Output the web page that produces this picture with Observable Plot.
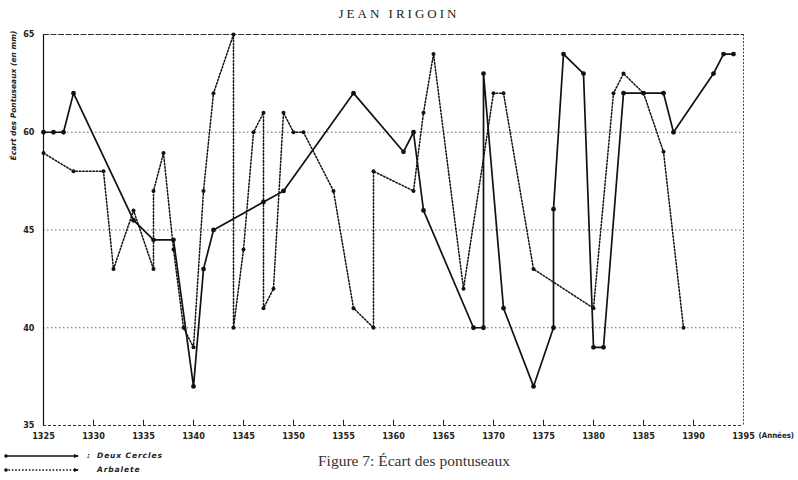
<!DOCTYPE html>
<html>
<head>
<meta charset="utf-8">
<script src="https://cdn.jsdelivr.net/npm/d3@7"></script>
<script src="https://cdn.jsdelivr.net/npm/@observablehq/plot@0.6"></script>
<style>
  html, body { margin: 0; padding: 0; background: #fff; }
  #wrap { position: relative; width: 798px; height: 480px; overflow: hidden; }
  #title { position: absolute; left: 0; top: 0; width: 798px; height: 26px; text-align: center;
           font-family: "Liberation Serif", "DejaVu Serif", serif; font-size: 13px; letter-spacing: 3px;
           line-height: 28px; color: #222; }
  #chart { position: absolute; left: 0; top: 26px; }
  .leg { position: absolute; left: 0; font-family: "DejaVu Sans", sans-serif; font-style: italic;
         font-weight: bold; font-size: 7.5px; letter-spacing: 0.9px; color: #222; }
  #caption { position: absolute; left: 318px; top: 452px; font-family: "Liberation Serif", "DejaVu Serif", serif;
             font-size: 15.5px; color: #333; white-space: nowrap; }
</style>
</head>
<body>
<div id="wrap">
  <div id="title"></div>
  <div id="chart"></div>
  <div id="legend"></div>
  <div id="caption"></div>
</div>
<script>
const titleText = "JEAN IRIGOIN";
const yLabel = "Écart des Pontuseaux (en mm)";
const xLabel = "(Années)";
const captionText = "Figure 7: Écart des pontuseaux";
const seriesNames = ["Deux Cercles", "Arbalete"];

const xTicks = [1325, 1330, 1335, 1340, 1345, 1350, 1355, 1360, 1365, 1370, 1375, 1380, 1385, 1390, 1395];
const yTicks = [35, 40, 45, 60, 65];
const gridValues = [40, 45, 60];

// "Deux Cercles" (solid line)
const cerclesYears  = [1325, 1326, 1327, 1328, 1334, 1336, 1338, 1340, 1341, 1342, 1347, 1349, 1356, 1361, 1362, 1363, 1368, 1369, 1369, 1371, 1374, 1376, 1376, 1377, 1379, 1380, 1381, 1383, 1385, 1387, 1388, 1392, 1393, 1394];
const cerclesValues = [60,   60,   60,   62,   46.5, 44.5, 44.5, 37,   43,   45,   49.3, 51,   62,   57,   60,   48,   40,   40,   63,   41,   37,   40,   48.2, 64,   63,   39,   39,   62,   62,   62,   60,   63,   64,   64];

// "Arbalete" (dotted line)
const arbaleteYears  = [1325, 1328, 1331, 1332, 1334, 1336, 1336, 1337, 1338, 1339, 1340, 1341, 1342, 1344, 1344, 1345, 1346, 1347, 1347, 1348, 1349, 1350, 1351, 1354, 1356, 1358, 1358, 1362, 1363, 1364, 1367, 1370, 1371, 1374, 1380, 1382, 1383, 1385, 1387, 1389];
const arbaleteValues = [56.8, 54,   54,   43,   48,   43,   51,   56.8, 44,   40,   39,   51,   62,   65,   40,   44,   60,   61,   41,   42,   61,   60,   60,   51,   41,   40,   54,   51,   61,   64,   42,   62,   62,   43,   41,   62,   63,   62,   57,   40];

const cercles = cerclesYears.map((x, i) => ({x, y: cerclesValues[i]}));
const arbalete = arbaleteYears.map((x, i) => ({x, y: arbaleteValues[i]}));

document.getElementById("title").textContent = titleText;
document.getElementById("caption").textContent = captionText;

const W = 798, H = 420, mt = 8, mb = 21, ml = 43, mr = 55;
const yRange = yTicks.map((_, i) => (H - mb) - i * (H - mb - mt) / (yTicks.length - 1));
const tickFont = "DejaVu Sans Condensed, DejaVu Sans, sans-serif";

const plot = Plot.plot({
  width: W, height: H,
  marginTop: mt, marginBottom: mb, marginLeft: ml, marginRight: mr,
  style: {background: "#fff", color: "#222", overflow: "visible"},
  x: {type: "linear", domain: [xTicks[0], xTicks[xTicks.length - 1]]},
  y: {type: "linear", domain: yTicks, range: yRange},
  marks: [
    Plot.ruleY(gridValues, {stroke: "#555", strokeWidth: 0.9, strokeDasharray: "1.5,2.5"}),
    Plot.ruleY([yTicks[yTicks.length - 1]], {stroke: "#333", strokeWidth: 1, strokeDasharray: "6,1.5"}),
    Plot.ruleY([yTicks[0]], {stroke: "#333", strokeWidth: 1, strokeDasharray: "3,2"}),
    Plot.ruleX([xTicks[0]], {stroke: "#111", strokeWidth: 1.2}),
    Plot.ruleX([xTicks[xTicks.length - 1]], {stroke: "#444", strokeWidth: 1, strokeDasharray: "2,1.5"}),
    Plot.ruleX(xTicks.slice(1, -1), {y1: yTicks[0], y2: 35.27, stroke: "#222", strokeWidth: 1}),
    Plot.line(arbalete, {x: "x", y: "y", stroke: "#111", strokeWidth: 1.5, strokeDasharray: "1.6,1.8"}),
    Plot.dot(arbalete, {x: "x", y: "y", r: 2, fill: "#111"}),
    Plot.line(cercles, {x: "x", y: "y", stroke: "#111", strokeWidth: 1.7}),
    Plot.dot(cercles, {x: "x", y: "y", r: 2.4, fill: "#111"}),
    Plot.axisX({ticks: xTicks, tickFormat: d => String(d), tickSize: 0, tickPadding: 7, label: null,
                fontSize: 9, fontWeight: "bold", fontFamily: tickFont}),
    Plot.axisY({ticks: yTicks, tickFormat: d => String(d), tickSize: 0, tickPadding: 9, label: null,
                fontSize: 9, fontWeight: "bold", fontFamily: tickFont}),
    Plot.text([yLabel], {text: d => d, frameAnchor: "top-left", rotate: -90, textAnchor: "end",
                dx: -33, dy: -4, fontSize: 7.5, fontWeight: "bold", fontStyle: "italic",
                fontFamily: "DejaVu Sans, sans-serif", fill: "#222", style: "letter-spacing:0.6px"}),
    Plot.text([xLabel], {text: d => d, frameAnchor: "bottom-right", textAnchor: "start",
                dx: 15, dy: 12, fontSize: 7.8, fontWeight: "bold", fontFamily: tickFont, fill: "#222",
                style: "letter-spacing:0.3px"})
  ]
});
document.getElementById("chart").appendChild(plot);

// legend
const legend = document.getElementById("legend");
const rows = [
  {name: seriesNames[0], dash: null, width: 1.7, top: 449, colon: true},
  {name: seriesNames[1], dash: "1.6,1.8", width: 1.4, top: 463, colon: false}
];
for (const r of rows) {
  const div = document.createElement("div");
  div.className = "leg";
  div.style.top = r.top + "px";
  div.style.height = "14px";
  div.style.width = "220px";
  div.innerHTML =
    `<svg width="86" height="14" style="position:absolute;left:0;top:0">
       <line x1="5" x2="78" y1="7" y2="7" stroke="#111" stroke-width="${r.width}" ${r.dash ? `stroke-dasharray="${r.dash}"` : ""}/>
       <circle cx="6" cy="7" r="1.8" fill="#111"/>
       <path d="M74,5 L79,7 L74,9 Z" fill="#111"/>
     </svg>
     <span style="position:absolute;left:87px;top:1px;line-height:12px">${r.colon ? ":" : ""}</span>
     <span style="position:absolute;left:97px;top:1px;line-height:12px">${r.name}</span>`;
  legend.appendChild(div);
}
</script>
</body>
</html>
